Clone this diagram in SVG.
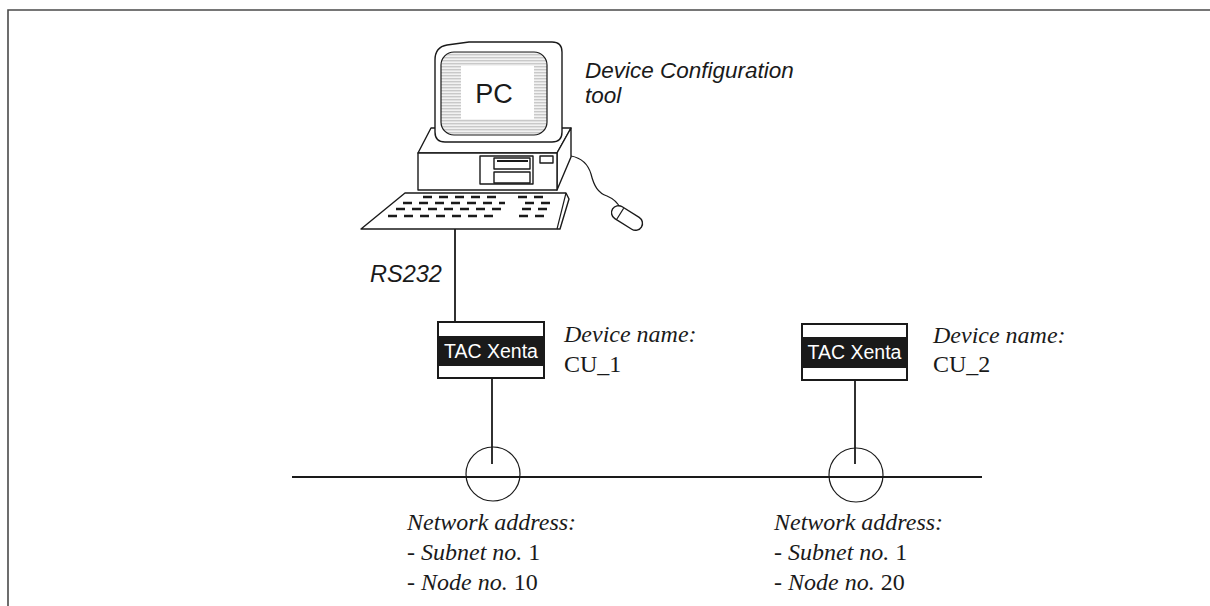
<svg xmlns="http://www.w3.org/2000/svg" width="1210" height="606" viewBox="0 0 1210 606">
  <defs>
    <pattern id="scan" width="4" height="3" patternUnits="userSpaceOnUse">
      <rect width="4" height="3" fill="#f2f2f2"/>
      <rect y="0" width="4" height="1.4" fill="#c9c9c9"/>
    </pattern>
  </defs>
  <style>
    .frame { fill: none; stroke: #4a4a4a; stroke-width: 1.6; }
    .line { fill: none; stroke: #1a1a1a; stroke-width: 1.8; }
    .thin { fill: none; stroke: #1a1a1a; stroke-width: 1.2; }
    .body { fill: #fff; stroke: #1a1a1a; stroke-width: 1.4; stroke-linejoin: round; }
    .keys { stroke: #1a1a1a; stroke-width: 2.4; stroke-dasharray: 9 7; }
    .sans { font-family: "Liberation Sans", Arial, sans-serif; fill: #1a1a1a; }
    .serif { font-family: "Liberation Serif", "Times New Roman", serif; fill: #1a1a1a; font-size: 24px; }
    .it { font-style: italic; }
  </style>

  <rect width="1210" height="606" fill="#fff"/>

  <!-- page frame: top and left rules -->
  <path class="frame" d="M8,606 L8,10 L1210,10"/>

  <!-- connectors -->
  <g id="connectors">
    <line class="line" x1="455" y1="229" x2="455" y2="322"/>
    <line class="line" x1="492" y1="378" x2="492" y2="464"/>
    <line class="line" x1="855" y1="380" x2="855" y2="464"/>
    <line class="line" x1="292" y1="477" x2="982" y2="477" stroke-width="2"/>
    <circle class="thin" cx="493" cy="474" r="27"/>
    <circle class="thin" cx="856" cy="475" r="27"/>
  </g>

  <!-- workstation with configuration tool -->
  <g id="pc">
    <!-- system unit -->
    <polygon class="body" points="418,153 431,128 571,128 557,153"/>
    <polygon class="body" points="557,153 571,128 571,157 557,190"/>
    <rect class="body" x="418" y="153" width="139" height="37"/>
    <rect class="body" x="480" y="156" width="53" height="28"/>
    <rect class="body" x="494" y="158" width="36" height="11"/>
    <line x1="497" y1="161" x2="528" y2="161" stroke="#1a1a1a" stroke-width="2"/>
    <rect class="body" x="494" y="172" width="36" height="11"/>
    <rect class="body" x="540" y="156" width="13" height="7"/>

    <!-- monitor -->
    <path class="body" d="M435,60 Q435,47 447,45 L469,42 L552,42 Q562,42 562,52 L562,132 Q562,142 552,142 L445,142 Q435,142 435,132 Z"/>
    <rect x="441" y="52" width="106" height="83" rx="13" fill="url(#scan)" stroke="#1a1a1a" stroke-width="1.2"/>
    <rect x="461" y="66" width="73" height="53" fill="#fff"/>
    <text class="sans" x="494" y="103" font-size="27" text-anchor="middle">PC</text>

    <!-- keyboard -->
    <polygon class="body" points="405,193 566,193 569,199 560,229 361,229"/>
    <line class="thin" x1="566" y1="193" x2="557" y2="229"/>
    <line class="keys" x1="423" y1="197" x2="498" y2="197"/>
    <line class="keys" x1="518" y1="197" x2="543" y2="197"/>
    <line class="keys" x1="403" y1="203" x2="505" y2="203"/>
    <line class="keys" x1="525" y1="203" x2="550" y2="203"/>
    <line class="keys" x1="396" y1="209" x2="505" y2="209"/>
    <line class="keys" x1="522" y1="209" x2="547" y2="209"/>
    <line class="keys" x1="388" y1="216" x2="497" y2="216"/>
    <line class="keys" x1="519" y1="216" x2="544" y2="216"/>

    <!-- mouse and cable -->
    <path class="thin" d="M571,156 C582,158 588,164 591,174 C594,186 598,193 607,196 C614,199 618,203 620,208"/>
    <g transform="rotate(32 627 218)">
      <rect class="body" x="610" y="211" width="34" height="14" rx="7"/>
      <line class="thin" x1="619" y1="211.5" x2="619" y2="224.5"/>
    </g>

    <text class="sans it" x="585" y="78" font-size="22.5">Device Configuration</text>
    <text class="sans it" x="585" y="103" font-size="22.5">tool</text>
  </g>

  <text class="sans it" x="370" y="282" font-size="23.5" id="rs232-label">RS232</text>

  <!-- controller CU_1 -->
  <g id="xenta-cu1">
    <rect x="438" y="322" width="106" height="56" fill="#fff" stroke="#1a1a1a" stroke-width="2"/>
    <rect x="438" y="336" width="106" height="30" fill="#1a1a1a"/>
    <text class="sans" x="491" y="358" font-size="19.5" text-anchor="middle" style="fill:#fff">TAC Xenta</text>
    <text class="serif it" x="564" y="342">Device name:</text>
    <text class="serif" x="564" y="372">CU_1</text>
  </g>

  <!-- controller CU_2 -->
  <g id="xenta-cu2">
    <rect x="802" y="324" width="105" height="56" fill="#fff" stroke="#1a1a1a" stroke-width="2"/>
    <rect x="802" y="337" width="105" height="31" fill="#1a1a1a"/>
    <text class="sans" x="854.5" y="359" font-size="19.5" text-anchor="middle" style="fill:#fff">TAC Xenta</text>
    <text class="serif it" x="933" y="343">Device name:</text>
    <text class="serif" x="933" y="372">CU_2</text>
  </g>

  <!-- network addresses -->
  <g id="addr-cu1" class="serif">
    <text class="it" x="407" y="530">Network address:</text>
    <text x="407" y="560"><tspan class="it">- Subnet no.</tspan> 1</text>
    <text x="407" y="590"><tspan class="it">- Node no.</tspan> 10</text>
  </g>
  <g id="addr-cu2" class="serif">
    <text class="it" x="774" y="530">Network address:</text>
    <text x="774" y="560"><tspan class="it">- Subnet no.</tspan> 1</text>
    <text x="774" y="590"><tspan class="it">- Node no.</tspan> 20</text>
  </g>
</svg>
